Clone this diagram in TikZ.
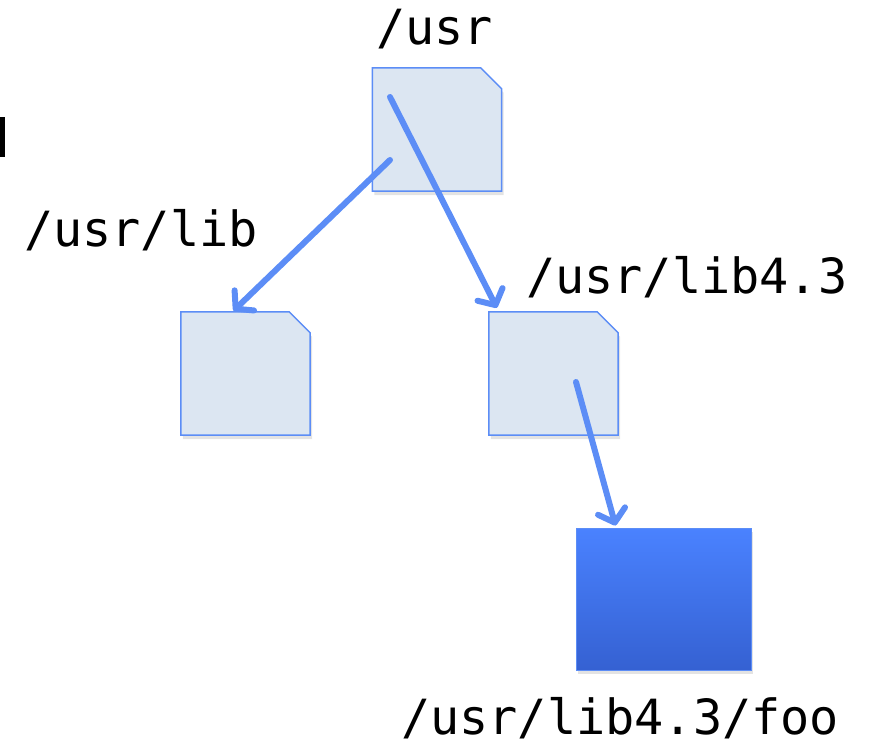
\documentclass[tikz,border=0pt]{standalone}
\usepackage{fontspec}
\setmonofont{DejaVu Sans Mono}
\usetikzlibrary{arrows.meta,shadows,calc}
\definecolor{edge}{HTML}{5C8DF6}
\definecolor{lightfill}{HTML}{DCE6F2}
\definecolor{darktop}{HTML}{4A82FF}
\definecolor{darkbot}{HTML}{3561D2}
\tikzset{
  folder/.style={rectangle, minimum width=129pt, minimum height=123pt, inner sep=0pt},
  folderline/.style={draw=edge, line width=1.5pt, fill=lightfill, line join=miter,
    drop shadow={shadow xshift=2pt, shadow yshift=-4pt, opacity=0.22}},
  filebox/.style={rectangle, minimum width=175pt, minimum height=142pt, inner sep=0pt,
    draw=edge, line width=1pt, top color=darktop, bottom color=darkbot,
    drop shadow={shadow xshift=2pt, shadow yshift=-4pt, opacity=0.22}},
  lbl/.style={anchor=base west, inner sep=0pt, font=\ttfamily\fontsize{48.5}{56}\selectfont},
  arr/.style={draw=edge, line width=6pt, line cap=round,
    -{Straight Barb[length=12pt, width=28pt, line width=6pt, round]}}
}
\begin{document}
\begin{tikzpicture}[x=1pt,y=-1pt]
\useasboundingbox (0,0) rectangle (876,746);
\fill[black] (0,117) rectangle (5,157);
\node[folder] (usr) at (437,129.5) {};
\node[folder] (lib) at (245.5,373.5) {};
\node[folder] (l43) at (553.5,373.5) {};
\foreach \n in {usr,lib,l43}
  \path[folderline] (\n.north west) -- ([xshift=-21pt]\n.north east)
     -- ([yshift=-21pt]\n.north east) -- (\n.south east) -- (\n.south west) -- cycle;
\node[filebox] (foo) at (663.5,599) {};
\node[lbl] (tusr) at (376,45) {/usr};
\node[lbl] (tlib) at (24,247) {/usr/lib};
\node[lbl] (tl43) at (526,294) {/usr/lib4.3};
\node[lbl] (tfoo) at (401,734) {/usr/lib4.3/foo};
\coordinate (s1) at (390,97);
\coordinate (s2) at (390,160);
\coordinate (s3) at (576,382);
\draw[arr] (s1) -- ([xshift=8pt,yshift=4pt]l43.north west);
\draw[arr] (s2) -- ([xshift=-12pt,yshift=1pt]lib.north);
\draw[arr] (s3) -- ([xshift=40pt,yshift=2pt]foo.north west);
\end{tikzpicture}
\end{document}
